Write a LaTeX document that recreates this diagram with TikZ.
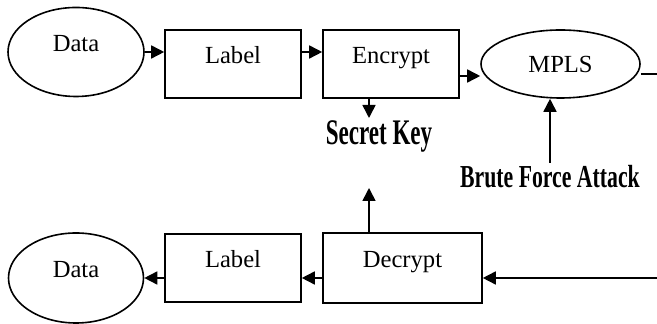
\documentclass[tikz,border=0pt]{standalone}
\usepackage{fontspec}
\setmainfont{Liberation Serif}
\usepackage{graphicx}
\usetikzlibrary{arrows.meta,shapes.geometric}

\begin{document}
\begin{tikzpicture}[x=0.5pt,y=-0.5pt,line width=0.8pt,
        font=\fontsize{12.3}{14}\selectfont,
        arr/.style={-{Triangle[length=6.5pt,width=6.5pt]}},
        hi/.style={text height=8pt,text depth=8pt},
        blk/.style={draw,rectangle,inner sep=0pt,hi},
        oval/.style={draw,ellipse,inner sep=0pt},
        heavy/.style={inner sep=1pt,font=\fontsize{#1}{#1}\selectfont\bfseries}]
    \useasboundingbox (0,0) rectangle (657,324);

    \node[oval,hi,minimum width=68pt,minimum height=44.5pt] (dataA) at (76,52) {Data};
    \node[blk,minimum width=68pt,minimum height=34pt] (labelA) at (233,64) {Label};
    \node[blk,minimum width=68pt,minimum height=34pt] (encrypt) at (391,64) {Encrypt};
    \node[oval,minimum width=79.5pt,minimum height=34pt] (mpls) at (560.5,64) {MPLS};
    \node[heavy=18,anchor=base] (key) at (379,145) {\scalebox{0.64}[1]{Secret Key}};
    \node[heavy=16,anchor=base] (bfa) at (550,188) {\scalebox{0.68}[1]{Brute Force Attack}};
    \node[blk,minimum width=79.5pt,minimum height=35pt] (decrypt) at (402.5,268) {Decrypt};
    \node[blk,minimum width=68pt,minimum height=34pt] (labelB) at (233,268) {Label};
    \node[oval,hi,minimum width=67.5pt,minimum height=45pt] (dataB) at (76,278) {Data};

    \coordinate (outA) at (657,74);
    \coordinate (keyIn) at (369,118);
    \coordinate (keyOut) at (369,188);
    \coordinate (inB) at (657,278);

    \draw[arr] (dataA.east) -- (dataA.east -| labelA.west);
    \draw[arr] (labelA.east |- dataA.east) -- (encrypt.west |- dataA.east);
    \draw[arr] ([yshift=-6pt]encrypt.east) -- ([yshift=-6pt]mpls.west);
    \draw (mpls.east |- outA) -- (outA);
    \draw[arr] (keyIn |- encrypt.south) -- (keyIn);
    \draw[arr] (bfa.north) -- (bfa.north |- mpls.south);
    \draw[arr] (keyOut |- decrypt.north) -- (keyOut);
    \draw[arr] (inB) -- (inB -| decrypt.east);
    \draw[arr] (decrypt.west |- dataB.east) -- (labelB.east |- dataB.east);
    \draw[arr] (labelB.west |- dataB.east) -- (dataB.east);
\end{tikzpicture}
\end{document}
